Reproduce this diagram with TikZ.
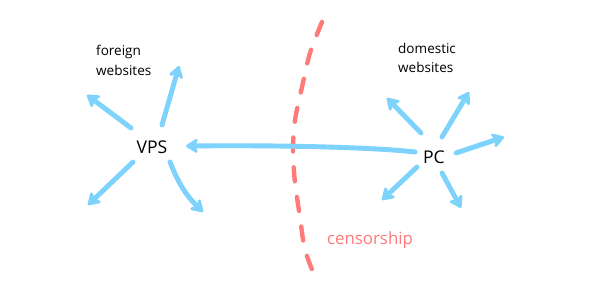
\documentclass[tikz,border=0pt]{standalone}
\usepackage{fontspec}
\setmainfont{Open Sans}
\usetikzlibrary{arrows.meta}
\definecolor{skyline}{RGB}{125,211,252}
\definecolor{wallred}{RGB}{255,122,122}
\tikzset{
  link/.style={draw=skyline, line width=2.8pt, line cap=round,
    -{Stealth[round, length=8pt, width=10pt, inset=2pt]}},
  wall/.style={draw=wallred, line width=2.5pt, line cap=round,
    dash pattern=on 8pt off 9pt},
  host/.style={font=\fontsize{10}{12}\selectfont, inner sep=1pt},
  group/.style={font=\fontsize{7.7}{11.3}\selectfont, align=left, anchor=west}
}
\begin{document}
\begin{tikzpicture}[x=0.02cm, y=-0.02cm]
\useasboundingbox (0,0) rectangle (600,300);
% Hosts
\node[host] (vps) at (152,147) {VPS};
\node[host] (pc) at (434,157) {PC};
% Labels
\node[group] (foreign) at (90,60) {foreign\\websites};
\node[group] (domestic) at (392,58) {domestic\\websites};
\node[font=\fontsize{9.6}{12}\selectfont, text=wallred] (censor) at (370,240) {censorship};
% Censorship wall
\draw[wall] plot[smooth] coordinates {(322,22) (310,53) (302,87) (295,120) (293,150)
  (295,183) (300,217) (305,250) (317,282)};
% PC to VPS
\draw[link] ([shift={(-19,-5)}]pc.center) .. controls (380,148) and (300,145)
  .. ([shift={(34,-1)}]vps.center);
% Fan out from VPS
\foreach \sx/\sy/\ex/\ey in {-21/-19/-65/-52, 10/-22/27/-81, -19/15/-64/58} {
  \draw[link] ([shift={(\sx,\sy)}]vps.center) -- ([shift={(\ex,\ey)}]vps.center);
}
\draw[link] ([shift={(18,15)}]vps.center) to[bend right=12] ([shift={(51,65)}]vps.center);
% Fan out from PC
\foreach \sx/\sy/\ex/\ey in {-13/-24/-47/-59, 8/-20/35/-65, 22/-4/70/-20,
  -17/10/-52/43, 8/16/27/51} {
  \draw[link] ([shift={(\sx,\sy)}]pc.center) -- ([shift={(\ex,\ey)}]pc.center);
}
\end{tikzpicture}
\end{document}
